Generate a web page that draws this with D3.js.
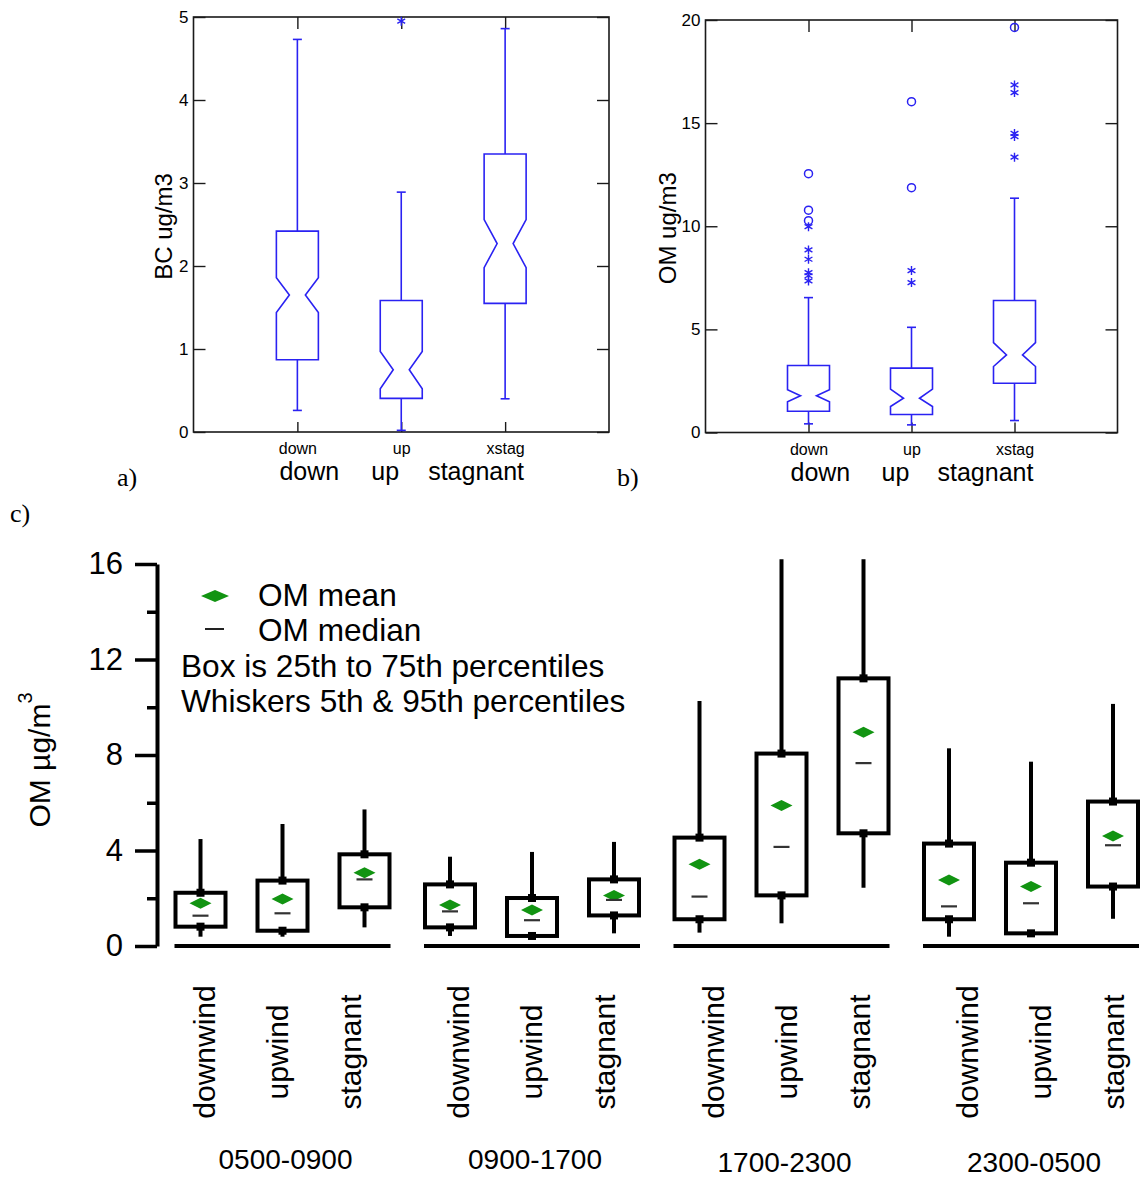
<!DOCTYPE html>
<html>
<head>
<meta charset="utf-8">
<script src="https://cdn.jsdelivr.net/npm/d3@7"></script>
<style>
  body { margin: 0; background: #fff; }
  svg { display: block; }
  text { font-family: "Liberation Sans", Arial, Helvetica, sans-serif; fill: #000; }
  .serif { font-family: "Liberation Serif", "Times New Roman", serif; }
</style>
</head>
<body>
<svg id="fig" width="1143" height="1177"></svg>
<script>
// ---------- panel a: black carbon by wind regime (notched boxes) ----------
const regimeCodes = ["down", "up", "xstag"];
const regimeNames = ["down", "up", "stagnant"];

const bcLow      = [0.26, 0.02, 0.40];
const bcQ1       = [0.87, 0.405, 1.55];
const bcNotchLo  = [1.44, 0.52, 1.98];
const bcMedian   = [1.65, 0.75, 2.27];
const bcNotchHi  = [1.86, 0.97, 2.56];
const bcQ3       = [2.42, 1.585, 3.35];
const bcHigh     = [4.73, 2.89, 4.86];
const bcFar      = [[], [], []];
const bcNear     = [[], [4.95], []];
const bcTicks    = [0, 1, 2, 3, 4, 5];

// ---------- panel b: organic matter by wind regime ----------
const omLow      = [0.42, 0.37, 0.58];
const omQ1       = [1.03, 0.87, 2.39];
const omNotchLo  = [1.49, 1.26, 3.20];
const omMedian   = [1.78, 1.66, 3.76];
const omNotchHi  = [2.07, 2.10, 4.36];
const omQ3       = [3.25, 3.12, 6.40];
const omHigh     = [6.54, 5.10, 11.36];
const omFar      = [[12.55, 10.78, 10.27], [16.04, 11.87], [19.64]];
const omNear     = [[9.98, 8.85, 8.40, 7.75, 7.60, 7.35], [7.85, 7.27], [16.85, 16.48, 14.50, 14.35, 13.35]];
const omTicks    = [0, 5, 10, 15, 20];

// ---------- panel c: organic matter by time of day and wind regime ----------
const periods = ["0500-0900", "0900-1700", "1700-2300", "2300-0500"];
const winds   = ["downwind", "upwind", "stagnant"];
//               0500-0900           0900-1700           1700-2300            2300-0500
const omP05    = [0.39, 0.39, 0.78,   0.42, 0.39, 0.53,   0.56, 0.95, 2.44,    0.39, 0.48, 1.14];
const omP25    = [0.81, 0.64, 1.62,   0.78, 0.42, 1.28,   1.12, 2.12, 4.72,    1.12, 0.53, 2.49];
const omMed    = [1.27, 1.37, 2.79,   1.45, 1.08, 1.93,   2.07, 4.15, 7.66,    1.66, 1.79, 4.22];
const omMean   = [1.79, 1.97, 3.07,   1.72, 1.51, 2.12,   3.42, 5.88, 8.95,    2.76, 2.49, 4.61];
const omP75    = [2.23, 2.74, 3.84,   2.58, 2.01, 2.79,   4.54, 8.06, 11.21,   4.29, 3.49, 6.05];
const omP95    = [4.48, 5.11, 5.72,   3.74, 3.94, 4.36,  10.26, 16.2, 16.2,    8.28, 7.72, 10.14];
const cMajorTicks = [0, 4, 8, 12, 16];
const cMinorTicks = [2, 6, 10, 14];
const legendLines = ["OM mean", "OM median", "Box is 25th to 75th percentiles", "Whiskers 5th & 95th percentiles"];

const svg = d3.select("#fig");
const BLUE = "#2a22f2";

function notchedPanel(opt) {
  const g = svg.append("g");
  const x = d3.scaleLinear().domain([0, 4]).range([opt.x0, opt.x1]);
  const y = d3.scaleLinear().domain([0, opt.max]).range([opt.y0, opt.y1]);

  // frame
  g.append("rect")
    .attr("x", opt.x0).attr("y", opt.y1)
    .attr("width", opt.x1 - opt.x0).attr("height", opt.y0 - opt.y1)
    .attr("fill", "none").attr("stroke", "#1a1a1a").attr("stroke-width", 1.6);

  const styleAxis = sel => {
    sel.select(".domain").remove();
    sel.selectAll(".tick line").attr("stroke", "#1a1a1a").attr("stroke-width", 1.4);
  };

  g.append("g").attr("transform", `translate(${opt.x0},0)`)
    .call(d3.axisLeft(y).tickValues(opt.ticks).tickFormat(d3.format("d")).tickSize(-12).tickPadding(5))
    .call(styleAxis)
    .call(s => s.selectAll("text").attr("font-size", 17).attr("font-family", "Liberation Sans, Arial"));
  g.append("g").attr("transform", `translate(${opt.x1},0)`)
    .call(d3.axisRight(y).tickValues(opt.ticks).tickSize(-12).tickFormat(""))
    .call(styleAxis);
  g.append("g").attr("transform", `translate(0,${opt.y1})`)
    .call(d3.axisTop(x).tickValues([1, 2, 3]).tickSize(-12).tickFormat(""))
    .call(styleAxis);
  g.append("g").attr("transform", `translate(0,${opt.y0})`)
    .call(d3.axisBottom(x).tickValues([1, 2, 3]).tickSize(-10).tickPadding(11)
      .tickFormat((d, i) => regimeCodes[i]))
    .call(styleAxis)
    .call(s => s.selectAll("text").attr("font-size", 16).attr("font-family", "Liberation Sans, Arial"));

  // boxes
  const w = 21, n = 13;
  regimeCodes.forEach((c, i) => {
    const cx = x(i + 1);
    const pts = [
      [cx - w, y(opt.q1[i])], [cx - w, y(opt.nlo[i])], [cx - w + n, y(opt.med[i])],
      [cx - w, y(opt.nhi[i])], [cx - w, y(opt.q3[i])], [cx + w, y(opt.q3[i])],
      [cx + w, y(opt.nhi[i])], [cx + w - n, y(opt.med[i])], [cx + w, y(opt.nlo[i])],
      [cx + w, y(opt.q1[i])]
    ];
    g.append("path").attr("d", d3.line()(pts) + "Z")
      .attr("fill", "none").attr("stroke", BLUE).attr("stroke-width", 1.6);
    [[opt.q3[i], opt.hi[i]], [opt.q1[i], opt.lo[i]]].forEach(([a, b]) => {
      g.append("line").attr("x1", cx).attr("x2", cx).attr("y1", y(a)).attr("y2", y(b))
        .attr("stroke", BLUE).attr("stroke-width", 1.6);
      g.append("line").attr("x1", cx - 4.5).attr("x2", cx + 4.5).attr("y1", y(b)).attr("y2", y(b))
        .attr("stroke", BLUE).attr("stroke-width", 1.6);
    });
    opt.far[i].forEach(v => {
      g.append("circle").attr("cx", cx).attr("cy", y(v)).attr("r", 4)
        .attr("fill", "none").attr("stroke", BLUE).attr("stroke-width", 1.5);
    });
    opt.near[i].forEach(v => {
      const cy = y(v), r = 4.5;
      const star = `M${cx},${cy - r}V${cy + r}` +
        `M${cx - r * 0.87},${cy - r * 0.5}L${cx + r * 0.87},${cy + r * 0.5}` +
        `M${cx - r * 0.87},${cy + r * 0.5}L${cx + r * 0.87},${cy - r * 0.5}`;
      g.append("path").attr("d", star).attr("fill", "none").attr("stroke", BLUE).attr("stroke-width", 1.4);
    });
  });

  // axis title
  g.append("text")
    .attr("transform", `translate(${opt.titleX},${(opt.y0 + opt.y1) / 2 + 2}) rotate(-90)`)
    .attr("text-anchor", "middle").attr("font-size", 24)
    .text(opt.title);

  // regime names below the axis
  const shift = [-18, -30, -77];
  regimeNames.forEach((t, i) => {
    g.append("text").attr("x", x(i + 1) + shift[i]).attr("y", opt.y0 + 48)
      .attr("font-size", 25).text(t);
  });

  g.append("text").attr("class", "serif").attr("x", opt.tagX).attr("y", 486)
    .attr("font-size", 26).text(opt.tag);
}

notchedPanel({
  x0: 193.5, x1: 609, y0: 432, y1: 17, max: 5, ticks: bcTicks,
  lo: bcLow, q1: bcQ1, nlo: bcNotchLo, med: bcMedian, nhi: bcNotchHi, q3: bcQ3, hi: bcHigh,
  far: bcFar, near: bcNear, title: "BC ug/m3", titleX: 172, tag: "a)", tagX: 117
});
notchedPanel({
  x0: 705.5, x1: 1117.5, y0: 432.5, y1: 20, max: 20, ticks: omTicks,
  lo: omLow, q1: omQ1, nlo: omNotchLo, med: omMedian, nhi: omNotchHi, q3: omQ3, hi: omHigh,
  far: omFar, near: omNear, title: "OM ug/m3", titleX: 676, tag: "b)", tagX: 617
});

// ---------- panel c ----------
const gc = svg.append("g");
const yC = d3.scaleLinear().domain([0, 16]).range([946, 564]);
const outer = d3.scalePoint().domain(periods).range([282.5, 1031]);
const inner = d3.scalePoint().domain(winds).range([-82, 82]);
const labelOuter = d3.scalePoint().domain(periods).range([277, 1040]);
const labelInner = d3.scalePoint().domain(winds).range([-73, 73]);
const AXX = 157;

gc.append("g").attr("transform", `translate(${AXX},0)`)
  .call(d3.axisLeft(yC).tickValues(cMajorTicks).tickSize(22).tickSizeOuter(0).tickPadding(12))
  .call(s => {
    s.select(".domain").attr("stroke", "#000").attr("stroke-width", 4);
    s.selectAll(".tick line").attr("stroke", "#000").attr("stroke-width", 3.5);
    s.selectAll("text").attr("font-size", 31).attr("font-family", "Liberation Sans, Arial");
  });
gc.append("g").attr("transform", `translate(${AXX},0)`)
  .call(d3.axisLeft(yC).tickValues(cMinorTicks).tickSize(10).tickFormat(""))
  .call(s => {
    s.select(".domain").remove();
    s.selectAll(".tick line").attr("stroke", "#000").attr("stroke-width", 3.5);
  });

// baseline segment under each period
periods.forEach(p => {
  gc.append("line").attr("x1", outer(p) - 108).attr("x2", outer(p) + 108)
    .attr("y1", yC(0)).attr("y2", yC(0)).attr("stroke", "#000").attr("stroke-width", 4);
});

const GREEN = "#129412";
const diamond = (cx, cy, w, h) => `M${cx - w / 2},${cy}L${cx},${cy - h / 2}L${cx + w / 2},${cy}L${cx},${cy + h / 2}Z`;

periods.forEach((p, pi) => {
  winds.forEach((wd, wi) => {
    const k = pi * 3 + wi;
    const cx = outer(p) + inner(wd);
    const bw = 50;
    gc.append("line").attr("x1", cx).attr("x2", cx).attr("y1", yC(omP75[k])).attr("y2", yC(omP95[k]))
      .attr("stroke", "#000").attr("stroke-width", 4);
    gc.append("line").attr("x1", cx).attr("x2", cx).attr("y1", yC(omP25[k])).attr("y2", yC(omP05[k]))
      .attr("stroke", "#000").attr("stroke-width", 4);
    gc.append("rect").attr("x", cx - bw / 2).attr("y", yC(omP75[k]))
      .attr("width", bw).attr("height", yC(omP25[k]) - yC(omP75[k]))
      .attr("fill", "none").attr("stroke", "#000").attr("stroke-width", 4);
    [omP25[k], omP75[k]].forEach(v => {
      gc.append("rect").attr("x", cx - 4).attr("y", yC(v) - 4).attr("width", 8).attr("height", 8).attr("fill", "#000");
    });
    gc.append("path").attr("d", diamond(cx, yC(omMean[k]), 22, 11)).attr("fill", GREEN);
    gc.append("line").attr("x1", cx - 8).attr("x2", cx + 8).attr("y1", yC(omMed[k])).attr("y2", yC(omMed[k]))
      .attr("stroke", "#333").attr("stroke-width", 2.2);

    gc.append("text")
      .attr("transform", `translate(${labelOuter(p) + labelInner(wd) + 11},1052) rotate(-90)`)
      .attr("text-anchor", "middle").attr("font-size", 30).text(wd);
  });
  gc.append("text").attr("x", outer(p) + 3).attr("y", pi < 2 ? 1169 : 1172)
    .attr("text-anchor", "middle").attr("font-size", 28).text(p);
});

// y title with superscript
const yt = gc.append("text")
  .attr("transform", "translate(50,760) rotate(-90)")
  .attr("text-anchor", "middle").attr("font-size", 30);
yt.append("tspan").text("OM \u00b5g/m");
yt.append("tspan").attr("font-size", 20).attr("dy", -18).text("3");

// legend
gc.append("path").attr("d", diamond(215, 596, 28, 12)).attr("fill", GREEN);
gc.append("line").attr("x1", 205).attr("x2", 224).attr("y1", 629).attr("y2", 629)
  .attr("stroke", "#222").attr("stroke-width", 2);
const legendPos = [[258, 606], [258, 641], [181, 677], [181, 712]];
legendLines.forEach((t, i) => {
  gc.append("text").attr("x", legendPos[i][0]).attr("y", legendPos[i][1]).attr("font-size", 31.6).text(t);
});

svg.append("text").attr("class", "serif").attr("x", 10).attr("y", 522).attr("font-size", 26).text("c)");
</script>
</body>
</html>
